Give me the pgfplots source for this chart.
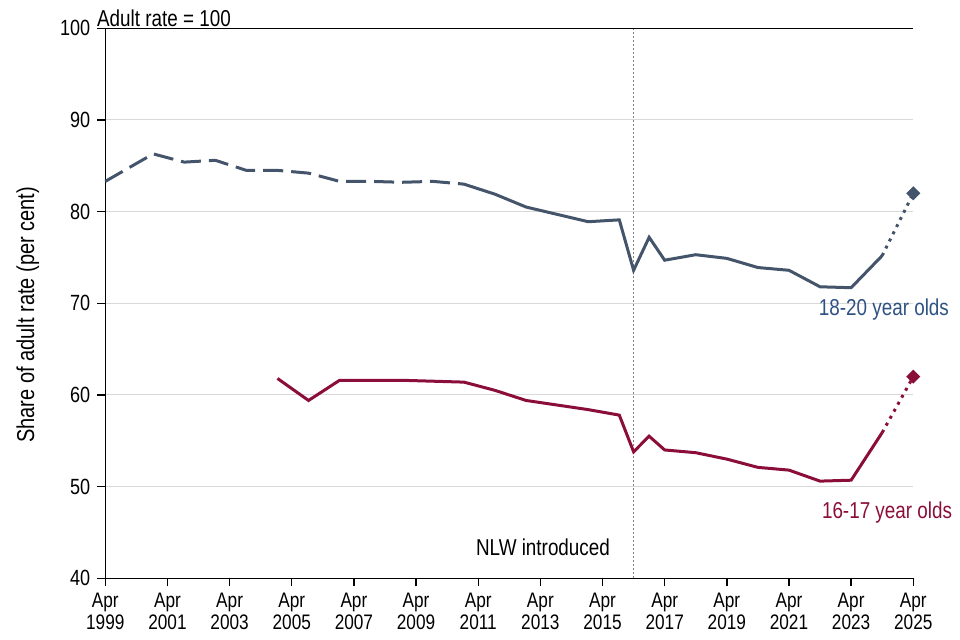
\documentclass[border=0pt]{standalone}
\usepackage{fontspec}
\setmainfont{Liberation Sans}[FakeStretch=0.82]
\usepackage{pgfplots}
\pgfplotsset{compat=1.18}

\definecolor{slate}{HTML}{44546A}
\definecolor{slatetxt}{HTML}{2F5283}
\definecolor{wine}{HTML}{8B0E3A}
\definecolor{gridgrey}{HTML}{D9D9D9}

\begin{document}
\begin{tikzpicture}
\useasboundingbox (-52.65pt,-30.85pt) rectangle (427.35pt,289.15pt);
\begin{axis}[
  at={(0,0)}, anchor=south west,
  scale only axis, width=404pt, height=275pt,
  xmin=1999.25, xmax=2025.25, ymin=40, ymax=100,
  axis x line*=bottom, axis y line*=left,
  axis line style={black, line width=0.7pt},
  xtick={1999.25,2001.25,2003.25,2005.25,2007.25,2009.25,2011.25,2013.25,2015.25,2017.25,2019.25,2021.25,2023.25,2025.25},
  xticklabels={Apr\\1999,Apr\\2001,Apr\\2003,Apr\\2005,Apr\\2007,Apr\\2009,Apr\\2011,Apr\\2013,Apr\\2015,Apr\\2017,Apr\\2019,Apr\\2021,Apr\\2023,Apr\\2025},
  xticklabel style={align=center, font=\fontsize{10.5}{10.8}\selectfont},
  ytick={40,50,60,70,80,90,100},
  yticklabel style={font=\fontsize{11}{12}\selectfont},
  tick align=outside, major tick length=4pt,
  tick style={black, line width=0.7pt},
  ymajorgrids, grid style={gridgrey, line width=0.5pt},
  /pgf/number format/assume math mode=true,
  ylabel={Share of adult rate (per cent)},
  ylabel style={at={(axis description cs:-0.0958,0.479)}, anchor=center, font=\fontsize{12.2}{13}\selectfont},
  clip=false,
]
% NLW marker line
\draw[gray, line width=0.5pt, dash pattern=on 1pt off 1pt] (axis cs:2016.25,40) -- (axis cs:2016.25,100);
\draw[black, line width=0.7pt] (rel axis cs:0,1) -- (rel axis cs:1,1);

% 18-20 year olds
\addplot[slate, line width=1.5pt, dash pattern=on 10pt off 4pt] coordinates {
  (1999.25,83.3) (2000.79,86.3) (2001.79,85.4) (2002.79,85.6) (2003.79,84.5)
  (2004.79,84.5) (2005.79,84.2) (2006.79,83.3) (2007.79,83.3) (2008.79,83.2)
  (2009.79,83.3) (2010.79,83.0)};
\addplot[slate, line width=1.5pt] coordinates {
  (2010.79,83.0) (2011.79,81.9) (2012.79,80.5) (2013.79,79.7) (2014.79,78.9)
  (2015.79,79.1) (2016.25,73.6) (2016.75,77.2) (2017.25,74.7) (2018.25,75.3)
  (2019.25,74.9) (2020.25,73.9) (2021.25,73.6) (2022.25,71.8) (2023.25,71.7)
  (2024.25,75.2)};
\addplot[slate, line width=1.5pt, dash pattern=on 1.5pt off 2.5pt,
  mark=square*, mark indices={2}, mark size=1.75pt,
  mark options={solid, rotate=45, fill=slate}] coordinates {
  (2024.25,75.2) (2025.25,82.0)};

% 16-17 year olds
\addplot[wine, line width=1.5pt] coordinates {
  (2004.79,61.8) (2005.79,59.4) (2006.79,61.6) (2007.79,61.6) (2008.79,61.6)
  (2009.79,61.5) (2010.79,61.4) (2011.79,60.5) (2012.79,59.4) (2013.79,58.9)
  (2014.79,58.4) (2015.79,57.8) (2016.25,53.8) (2016.75,55.5) (2017.25,54.0)
  (2018.25,53.7) (2019.25,53.0) (2020.25,52.1) (2021.25,51.8) (2022.25,50.6)
  (2023.25,50.7) (2024.25,55.9)};
\addplot[wine, line width=1.5pt, dash pattern=on 1.5pt off 2.5pt,
  mark=square*, mark indices={2}, mark size=1.75pt,
  mark options={solid, rotate=45, fill=wine}] coordinates {
  (2024.25,55.9) (2025.25,62.0)};

\node[anchor=base west, inner sep=0pt, font=\fontsize{11.5}{12}\selectfont]
  at ([xshift=-4.3pt, yshift=1pt]rel axis cs:0,1) {Adult rate = 100};
\node[anchor=base east, inner sep=0pt, font=\fontsize{11.5}{12}\selectfont]
  at (axis cs:2015.5,42.5) {NLW introduced};
\node[anchor=base west, inner sep=0pt, text=slatetxt, font=\fontsize{11.5}{12}\selectfont]
  at (axis cs:2022.2,68.7) {18-20 year olds};
\node[anchor=base west, inner sep=0pt, text=wine, font=\fontsize{11.5}{12}\selectfont]
  at (axis cs:2022.3,46.55) {16-17 year olds};
\end{axis}
\end{tikzpicture}
\end{document}
